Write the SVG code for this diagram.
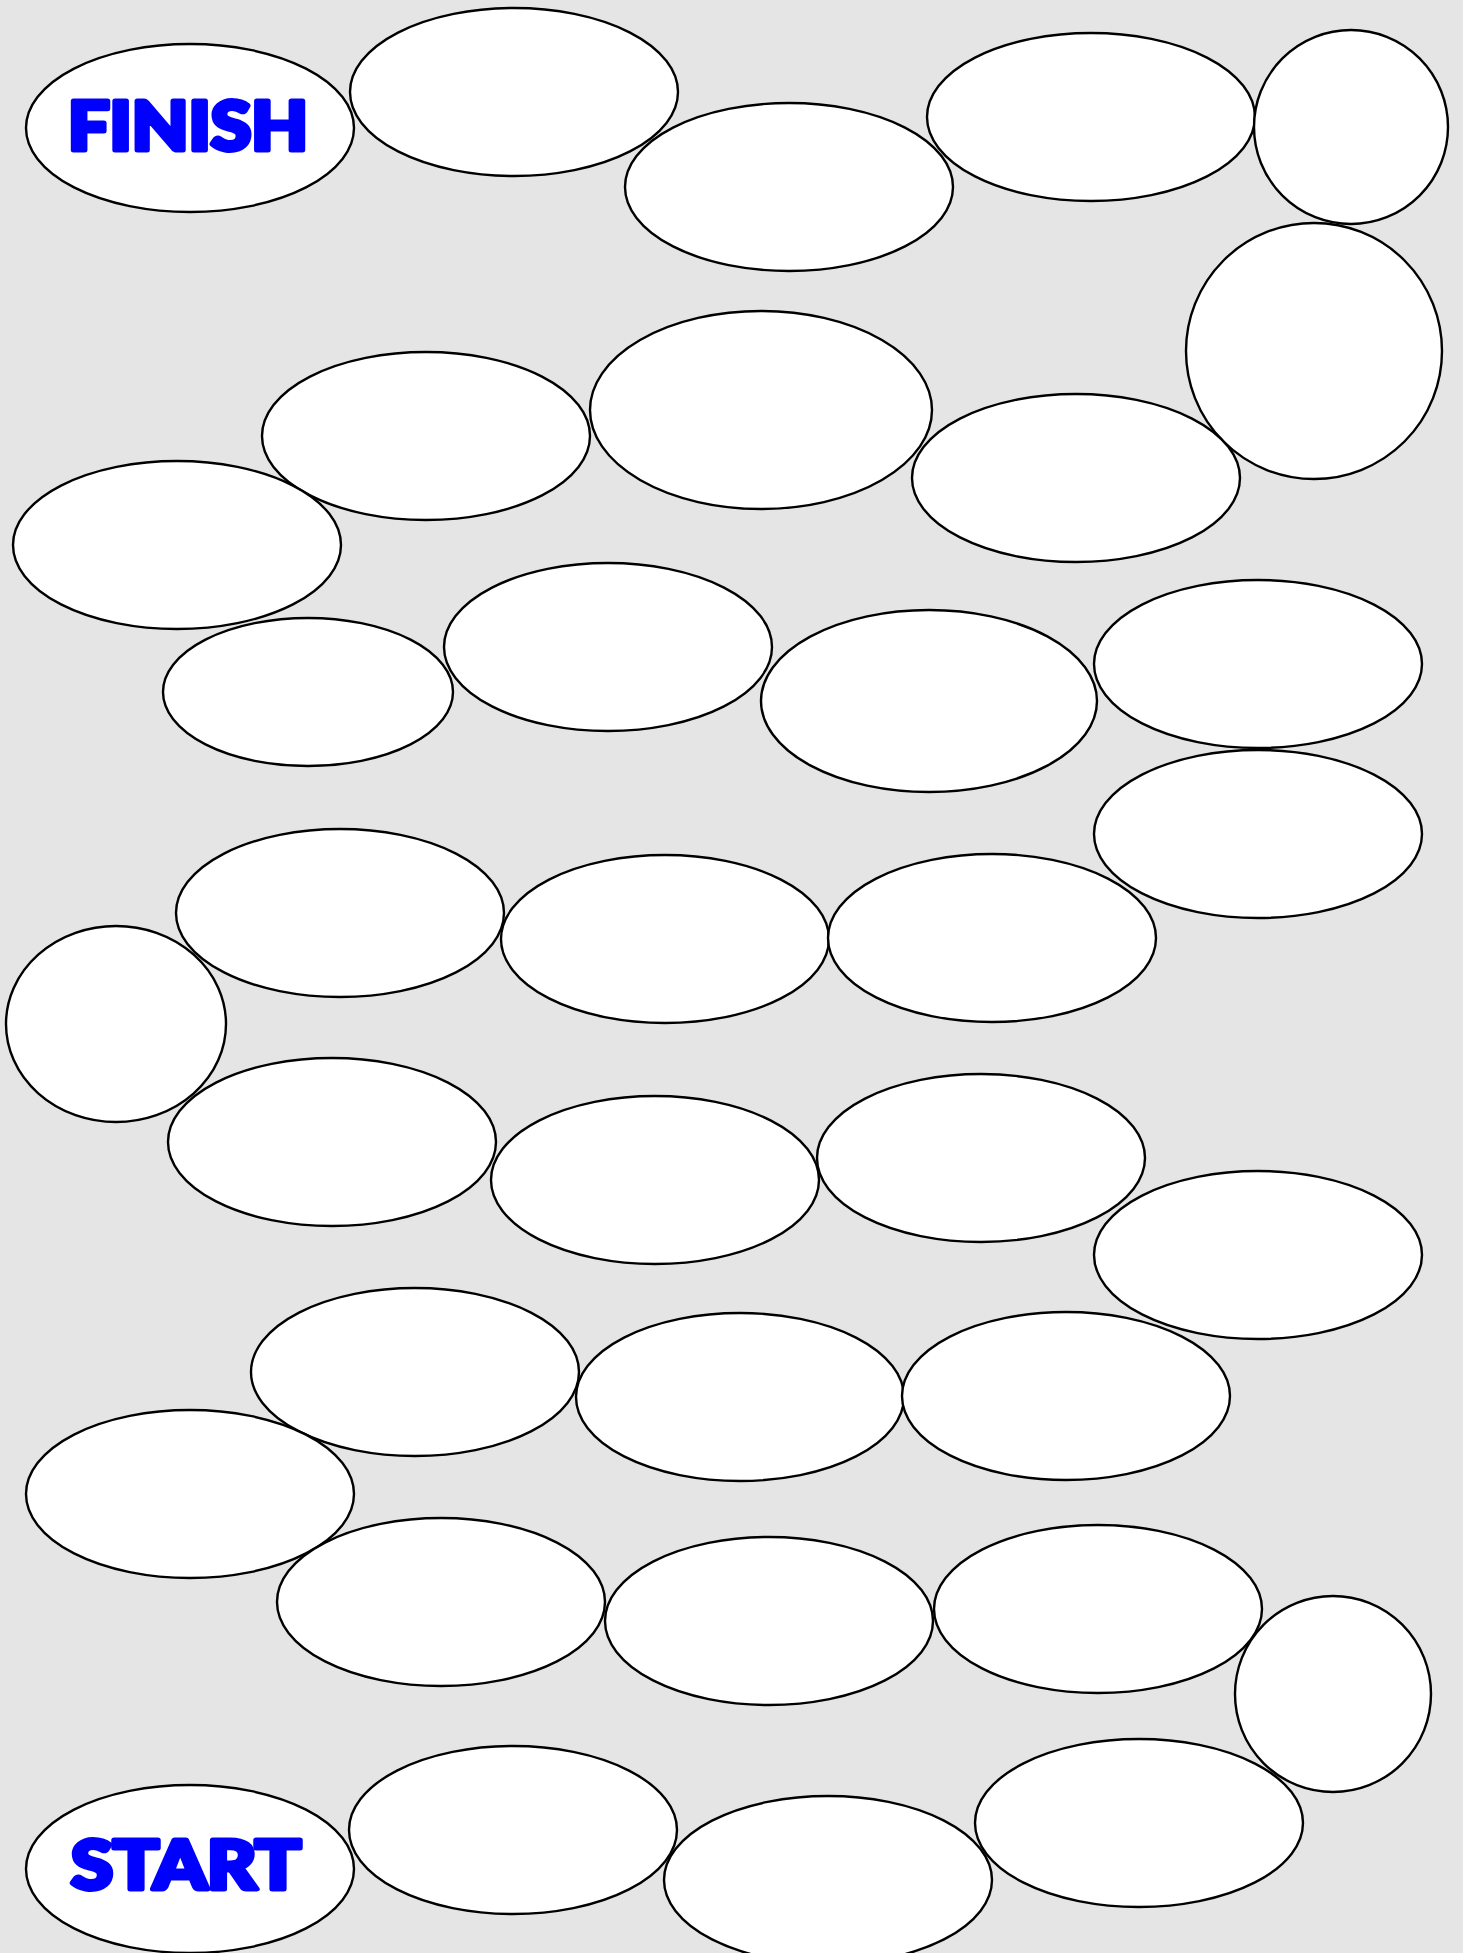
<svg xmlns="http://www.w3.org/2000/svg" width="1463" height="1953" viewBox="0 0 1463 1953">
<style>
.s{fill:#ffffff;stroke:#000000;stroke-width:2.4}
.t{font-family:"Lato","DejaVu Sans",sans-serif;font-weight:900;font-size:66px;fill:#0000ff;stroke:#0000ff;stroke-width:5;stroke-linejoin:round}
</style>
<rect width="1463" height="1953" fill="#e5e5e5"/>
<g id="connectors"/>
<g id="n1"><ellipse class="s" cx="190" cy="128" rx="164" ry="84"/><text class="t" x="68" y="150" textLength="240" lengthAdjust="spacingAndGlyphs">FINISH</text></g>
<g id="n2"><ellipse class="s" cx="514" cy="92" rx="164" ry="84"/></g>
<g id="n3"><ellipse class="s" cx="789" cy="187" rx="164" ry="84"/></g>
<g id="n4"><ellipse class="s" cx="1091" cy="117" rx="164" ry="84"/></g>
<g id="n5"><circle class="s" cx="1351" cy="127" r="97"/></g>
<g id="n6"><circle class="s" cx="1314" cy="351" r="128"/></g>
<g id="n7"><ellipse class="s" cx="426" cy="436" rx="164" ry="84"/></g>
<g id="n8"><ellipse class="s" cx="761" cy="410" rx="171" ry="99"/></g>
<g id="n9"><ellipse class="s" cx="1076" cy="478" rx="164" ry="84"/></g>
<g id="n10"><ellipse class="s" cx="177" cy="545" rx="164" ry="84"/></g>
<g id="n11"><ellipse class="s" cx="308" cy="692" rx="145" ry="74"/></g>
<g id="n12"><ellipse class="s" cx="608" cy="647" rx="164" ry="84"/></g>
<g id="n13"><ellipse class="s" cx="929" cy="701" rx="168" ry="91"/></g>
<g id="n14"><ellipse class="s" cx="1258" cy="664" rx="164" ry="84"/></g>
<g id="n15"><ellipse class="s" cx="1258" cy="834" rx="164" ry="84"/></g>
<g id="n16"><ellipse class="s" cx="340" cy="913" rx="164" ry="84"/></g>
<g id="n17"><ellipse class="s" cx="665" cy="939" rx="164" ry="84"/></g>
<g id="n18"><ellipse class="s" cx="992" cy="938" rx="164" ry="84"/></g>
<g id="n19"><ellipse class="s" cx="116" cy="1024" rx="110" ry="98"/></g>
<g id="n20"><ellipse class="s" cx="332" cy="1142" rx="164" ry="84"/></g>
<g id="n21"><ellipse class="s" cx="655" cy="1180" rx="164" ry="84"/></g>
<g id="n22"><ellipse class="s" cx="981" cy="1158" rx="164" ry="84"/></g>
<g id="n23"><ellipse class="s" cx="1258" cy="1255" rx="164" ry="84"/></g>
<g id="n24"><ellipse class="s" cx="415" cy="1372" rx="164" ry="84"/></g>
<g id="n25"><ellipse class="s" cx="740" cy="1397" rx="164" ry="84"/></g>
<g id="n26"><ellipse class="s" cx="1066" cy="1396" rx="164" ry="84"/></g>
<g id="n27"><ellipse class="s" cx="190" cy="1494" rx="164" ry="84"/></g>
<g id="n28"><ellipse class="s" cx="441" cy="1602" rx="164" ry="84"/></g>
<g id="n29"><ellipse class="s" cx="769" cy="1621" rx="164" ry="84"/></g>
<g id="n30"><ellipse class="s" cx="1098" cy="1609" rx="164" ry="84"/></g>
<g id="n31"><circle class="s" cx="1333" cy="1694" r="98"/></g>
<g id="n32"><ellipse class="s" cx="190" cy="1869" rx="164" ry="84"/><text class="t" x="71" y="1889" textLength="230" lengthAdjust="spacingAndGlyphs">START</text></g>
<g id="n33"><ellipse class="s" cx="513" cy="1830" rx="164" ry="84"/></g>
<g id="n34"><ellipse class="s" cx="828" cy="1880" rx="164" ry="84"/></g>
<g id="n35"><ellipse class="s" cx="1139" cy="1823" rx="164" ry="84"/></g>
</svg>
